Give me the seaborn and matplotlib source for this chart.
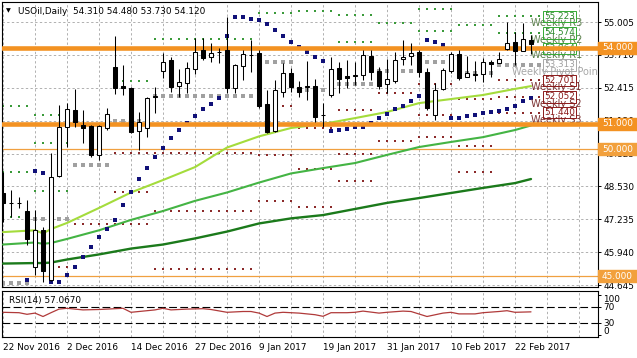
import numpy as np
import matplotlib
matplotlib.use("Agg")
import matplotlib.pyplot as plt
import matplotlib.transforms as mtrans
from matplotlib.patches import Rectangle
import seaborn as sns

# ---------------- data ----------------
symbol_title = "USOil,Daily"
last_ohlc = "54.310 54.480 53.730 54.120"

date_labels = ["22 Nov 2016", "2 Dec 2016", "14 Dec 2016", "27 Dec 2016", "9 Jan 2017",
               "19 Jan 2017", "31 Jan 2017", "10 Feb 2017", "22 Feb 2017"]
date_label_idx = [0, 8, 16, 24, 32, 40, 48, 56, 64]

opens = [48.27, 47.87, 47.87, 47.56, 45.36, 46.81, 44.84, 48.94, 50.87, 51.54,
         50.95, 50.91, 49.77, 50.83, 53.23, 52.49, 52.41, 50.70, 50.83, 52.07,
         53.08, 53.51, 52.49, 52.60, 53.15, 53.90, 53.63, 53.81, 53.90, 52.41,
         53.27, 53.70, 53.78, 51.78, 50.71, 52.25, 52.99, 52.45, 52.45, 52.49,
         51.34, 52.13, 53.19, 52.88, 52.88, 52.92, 53.67, 53.08, 52.56, 52.68,
         53.55, 53.67, 53.82, 53.04, 51.34, 52.37, 53.08, 53.74, 52.84, 52.92,
         52.96, 53.43, 53.39, 53.94, 54.22, 53.86, 54.31]
highs = [49.10, 48.39, 48.11, 47.99, 47.60, 46.93, 49.85, 51.74, 51.81, 52.37,
         51.54, 50.95, 50.95, 51.62, 54.45, 53.31, 52.45, 51.45, 52.05, 52.45,
         53.78, 53.63, 53.15, 53.43, 54.37, 54.37, 54.18, 53.98, 55.20, 53.35,
         53.90, 54.30, 53.90, 52.33, 52.72, 53.39, 53.19, 52.68, 53.47, 52.76,
         51.81, 53.63, 53.43, 53.51, 53.43, 53.90, 53.90, 53.23, 53.55, 53.82,
         54.30, 54.18, 53.90, 53.19, 52.60, 53.19, 53.82, 53.90, 53.67, 53.47,
         53.59, 53.51, 53.82, 55.00, 54.61, 54.96, 54.48]
lows = [47.13, 47.32, 47.68, 46.22, 45.04, 44.76, 44.80, 48.90, 50.08, 50.87,
        50.24, 49.69, 49.57, 50.75, 52.17, 52.13, 50.63, 49.97, 50.47, 51.42,
        52.80, 52.25, 52.05, 52.21, 52.96, 53.51, 53.43, 53.39, 52.21, 52.21,
        52.72, 53.04, 51.62, 50.63, 50.67, 52.05, 52.25, 52.05, 51.93, 51.07,
        50.87, 52.05, 52.21, 52.41, 52.52, 52.72, 52.72, 52.37, 52.21, 52.60,
        53.31, 53.31, 52.84, 51.54, 51.15, 52.33, 53.00, 52.72, 52.84, 52.68,
        52.64, 52.84, 53.39, 53.90, 53.31, 53.86, 53.73]
closes = [47.88, 47.89, 47.88, 46.46, 46.81, 45.20, 48.90, 50.87, 51.58, 51.07,
          50.83, 49.77, 50.91, 51.38, 52.41, 52.41, 50.67, 51.05, 52.01, 52.11,
          53.43, 52.45, 52.64, 53.19, 53.82, 53.59, 53.78, 53.83, 52.41, 53.31,
          53.74, 53.72, 51.70, 50.67, 52.33, 52.99, 52.45, 52.25, 52.47, 51.26,
          51.36, 53.15, 52.76, 52.80, 52.90, 53.70, 53.04, 52.49, 52.76, 53.51,
          53.63, 53.78, 53.04, 51.62, 52.33, 53.11, 53.74, 52.80, 53.00, 52.94,
          53.43, 53.35, 53.55, 54.18, 53.86, 54.33, 54.12]

ma_idx = [0, 4, 5, 6, 8, 12, 16, 20, 24, 28, 32, 36, 40, 44, 48, 52, 56, 60, 64, 66]
ma_fast = [46.73, 46.80, 46.68, 46.85, 47.09, 47.68, 48.29, 48.78, 49.29, 50.06,
           50.50, 50.83, 50.99, 51.22, 51.46, 51.81, 51.97, 52.13, 52.37, 52.48]
ma_mid = [46.24, 46.32, 46.27, 46.30, 46.46, 46.80, 47.21, 47.56, 47.96, 48.29,
          48.68, 49.04, 49.25, 49.45, 49.77, 50.08, 50.28, 50.47, 50.75, 50.93]
ma_slow = [45.49, 45.51, 45.51, 45.53, 45.65, 45.85, 46.08, 46.24, 46.48, 46.75,
           47.07, 47.27, 47.40, 47.64, 47.88, 48.07, 48.27, 48.47, 48.66, 48.82]

sar_idx = [3, 4, 5, 6, 7, 8, 9, 10, 11, 12, 13, 14, 15, 16, 17, 18, 19, 20, 21, 22,
           23, 24, 25, 26, 27, 28, 29, 30, 31, 32, 33, 34, 35, 36, 37, 38, 39, 40, 41, 42,
           43, 44, 45, 46, 47, 48, 49, 50, 51, 52, 53, 54, 55, 56, 57, 58, 59, 60, 61, 62,
           63, 64, 65, 66]
sar_val = [44.84, 49.14, 49.06, 44.76, 44.76, 45.04, 45.36, 45.75, 46.14, 46.54,
           46.85, 47.20, 47.80, 48.31, 48.82, 49.25, 49.69, 50.04, 50.43, 50.75,
           51.03, 51.30, 51.58, 51.77, 52.01, 54.45, 55.20, 55.20, 55.12, 55.08,
           54.93, 54.69, 54.45, 54.22, 54.02, 53.82, 53.63, 53.47, 50.71, 50.75,
           50.79, 50.87, 50.87, 51.03, 51.22, 51.38, 51.58, 51.70, 51.89, 52.09,
           54.30, 54.22, 54.10, 51.22, 51.22, 51.30, 51.34, 51.42, 51.46, 51.50,
           51.58, 51.70, 51.89, 52.01]

nan = float("nan")
week_start = [0, 4, 9, 14, 19, 32, 37, 42, 47, 52, 57, 62]
week_end = [3, 8, 13, 18, 31, 36, 41, 46, 51, 56, 61, 67]
piv_r3 = [51.70, 51.34, nan, nan, nan, nan, nan, nan, nan, nan, nan, 55.223]
piv_r2 = [49.10, 50.24, nan, 53.94, nan, nan, 55.45, 55.30, nan, 55.50, nan, 54.574]
piv_r1 = [47.33, 48.35, 54.00, 52.68, 54.34, 55.36, 53.95, 54.22, 54.97, 54.65, 54.89, 53.964]
piv_p = [44.72, 47.25, 49.37, 51.11, 52.09, 53.43, 52.33, 52.56, 53.08, 53.43, 52.98, 53.313]
piv_s1 = [nan, 45.36, 47.05, 49.85, 49.85, 51.70, 50.83, 51.54, 52.21, 52.56, 51.97, 52.701]
piv_s2 = [nan, nan, nan, 48.31, 47.56, 49.77, 49.21, 49.81, 50.32, 51.34, 50.12, 52.052]
piv_s3 = [nan, nan, nan, 47.05, 45.28, 47.95, 47.72, 48.74, nan, 50.47, 49.10, 51.440]
piv_names = ["Weekly R3", "Weekly R2", "Weekly R1", "Weekly Pivot Point",
             "Weekly S1", "Weekly S2", "Weekly S3"]

hlines_thick = [54.0, 51.0]
hlines_thin = [50.0, 45.0]

price_ticks = [55.005, 53.710, 52.415, 51.120, 49.825, 48.530, 47.235, 45.940, 44.645]

rsi_idx = [0, 2, 3, 4, 5, 6, 7, 8, 9, 10, 12, 14, 15, 16, 18, 19, 20, 21, 23, 25,
           26, 28, 30, 31, 32, 33, 34, 35, 37, 39, 40, 41, 43, 44, 45, 47, 48, 50, 51, 53,
           55, 56, 57, 59, 60, 62, 63, 64, 66]
rsi_val = [56, 55, 51, 54, 45.5, 55, 64, 66, 64, 62, 63, 65, 66, 56, 60, 62, 66, 62, 64, 65,
           63, 56, 58, 58, 54, 45.5, 54, 56, 54, 50, 46, 55, 55, 56, 59, 54, 56, 59, 58, 45.5,
           54, 56, 52, 52, 55, 58, 60, 56, 57.1]
rsi_title = "RSI(14) 57.0670"
rsi_levels = [70, 30]
rsi_ticks = [100, 70, 30, 0]

# ---------------- style ----------------
sns.set_style("white")
plt.rcParams['font.family'] = ['DejaVu Sans']
FS = 6.4
W, H = 637, 358
fig = plt.figure(figsize=(W / 100, H / 100), dpi=100)
fig.patch.set_facecolor("white")


def px_axes(l, t, r, b):
    return fig.add_axes([l / W, 1 - b / H, (r - l) / W, (b - t) / H])


ax = px_axes(2, 2, 598, 287)
axr = px_axes(2, 291, 598, 337)

XMIN, XMAX = -0.125, 74.375
for a in (ax, axr):
    a.set_xlim(XMIN, XMAX)
    a.set_facecolor("white")
    for s in a.spines.values():
        s.set_color("black")
        s.set_linewidth(0.8)
ax.set_ylim(44.567, 55.793)
axr.set_ylim(-5.75, 109.25)

grid_kw = dict(color="#b0b0b0", linewidth=0.7, linestyle=(0, (2.4, 2.4)))
grid_x = list(range(0, 73, 4))
ax.set_xticks(grid_x)
ax.tick_params(axis="x", length=0, labelbottom=False)
ax.set_yticks(price_ticks)
ax.set_yticklabels([f"{v:.3f}" for v in price_ticks])
ax.yaxis.tick_right()
ax.tick_params(axis="y", length=2.2, width=0.7, pad=1.5, labelsize=FS, colors="black")
ax.grid(True, axis="both", **grid_kw)
ax.set_axisbelow(True)

# pivot dots
piv_levels = [piv_r3, piv_r2, piv_r1, piv_p, piv_s1, piv_s2, piv_s3]
dot_colors = ["#3a9a3a", "#3a9a3a", "#3a9a3a", "#a0a0a0", "#8b2a2a", "#8b2a2a", "#8b2a2a"]
for lev, col, nm in zip(piv_levels, dot_colors, piv_names):
    xs, ys = [], []
    for s0, e0, v in zip(week_start, week_end, lev):
        if v == v:
            for k in range(s0, e0 + 1):
                xs.append(k)
                ys.append(v)
    size = 6 if "Pivot" in nm else 1.8
    ax.scatter(xs, ys, marker="s", s=size, color=col, linewidths=0, zorder=1.5)

# thin orange lines
for v in hlines_thin:
    ax.axhline(v, color="#f0a040", linewidth=0.9, zorder=2)

# moving averages
sns.lineplot(x=ma_idx, y=ma_fast, ax=ax, color="#a4dc3c", linewidth=1.5, zorder=3, legend=False)
sns.lineplot(x=ma_idx, y=ma_mid, ax=ax, color="#44b444", linewidth=1.5, zorder=3, legend=False)
sns.lineplot(x=ma_idx, y=ma_slow, ax=ax, color="#1b7a1b", linewidth=1.7, zorder=3, legend=False)

# parabolic SAR
sns.scatterplot(x=sar_idx, y=sar_val, ax=ax, marker="s", s=5.5, color="#101078",
                linewidth=0, zorder=4, legend=False)

# weekly pivot labels for the current week
cur = len(week_start) - 1
lab_x = 69.6
box_cols = ["#33aa33"] * 3 + ["#a8a8a8"] + ["#8b1a1a"] * 3
num_cols = ["#2d8a2d"] * 3 + ["#a0a0a0"] + ["#8b1a1a"] * 3
txt_cols = ["#5a7f4a"] * 3 + ["#a8a8a8"] + ["#7a3030"] * 3
off = 7 / 25.39
for lev, nm, bc, nc, tc in zip(piv_levels, piv_names, box_cols, num_cols, txt_cols):
    v = lev[cur]
    ax.text(lab_x - 0.4, v - off, nm, color=tc, fontsize=7, ha="center", va="center",
            zorder=4.5, clip_on=True)
    ax.text(lab_x, v, f"{v:.3f}", color=nc, fontsize=FS, ha="center", va="center",
            zorder=4.6, clip_on=True,
            bbox=dict(boxstyle="square,pad=0.12", fc="none", ec=bc, lw=0.7))

# thick orange lines
for v in hlines_thick:
    ax.axhline(v, color="#f39222", linewidth=3.3, zorder=5)

# candles
idx = np.arange(len(opens))
o = np.array(opens); c = np.array(closes)
ax.vlines(idx, lows, highs, color="black", linewidth=0.75, zorder=6)
bottoms = np.minimum(o, c)
heights = np.maximum(np.abs(c - o), 0.012)
face = ["white" if cc >= oo else "black" for oo, cc in zip(o, c)]
ax.bar(idx, heights, bottom=bottoms, width=0.58, color=face, edgecolor="black",
       linewidth=0.75, zorder=7)

# orange value boxes on price scale
bt = mtrans.blended_transform_factory(ax.transAxes, ax.transData)
bh = 12 / 25.39
for v, col in zip(hlines_thick + hlines_thin, ["#f39222", "#f39222", "#f2a03c", "#f2a03c"]):
    ax.add_patch(Rectangle((1.0, v - bh / 2), 40 / 596, bh, transform=bt, color=col,
                           clip_on=False, zorder=20))
    ax.text(1.0 + 4 / 596, v, f"{v:.3f}", transform=bt, color="white", fontsize=FS,
            ha="left", va="center", clip_on=False, zorder=21)

# header
fig.text(6 / W, 1 - 11 / H, "\u25bc", fontsize=4.5, ha="left", va="center", color="black")
fig.text(18 / W, 1 - 11 / H, f"{symbol_title}  {last_ohlc}", fontsize=FS, ha="left",
         va="center", color="black")

# ---------------- RSI ----------------
axr.set_xticks(list(range(0, 73, 8)))
axr.set_xticklabels(date_labels + [""])
axr.set_xticks(list(range(4, 73, 8)), minor=True)
for lab in axr.get_xticklabels():
    lab.set_ha("left")
axr.tick_params(axis="x", which="major", length=2.2, width=0.7, pad=2, labelsize=FS, colors="black")
axr.tick_params(axis="x", which="minor", length=0)
axr.grid(True, axis="x", which="both", **grid_kw)
axr.set_axisbelow(True)
axr.yaxis.tick_right()
axr.set_yticks(rsi_ticks)
axr.set_yticklabels([str(t) for t in rsi_ticks])
axr.tick_params(axis="y", length=2.2, width=0.7, pad=1.5, labelsize=FS, colors="black")
labs = axr.get_yticklabels()
labs[0].set_transform(labs[0].get_transform() + mtrans.ScaledTranslation(0, -4.3 / 100, fig.dpi_scale_trans))
labs[3].set_transform(labs[3].get_transform() + mtrans.ScaledTranslation(0, 4.7 / 100, fig.dpi_scale_trans))
for lv in rsi_levels:
    axr.axhline(lv, color="black", linewidth=0.8, linestyle=(0, (7, 3)), zorder=2)
sns.lineplot(x=rsi_idx, y=rsi_val, ax=axr, color="#b03a3a", linewidth=0.9, zorder=3, legend=False)
axr.text(7 / 596, (337 - 300) / 46, rsi_title, transform=axr.transAxes, fontsize=FS,
         ha="left", va="center", color="black")
axr.set_xlabel(""); axr.set_ylabel("")
ax.set_xlabel(""); ax.set_ylabel("")

fig.savefig("out.png", dpi=100, facecolor="white")
